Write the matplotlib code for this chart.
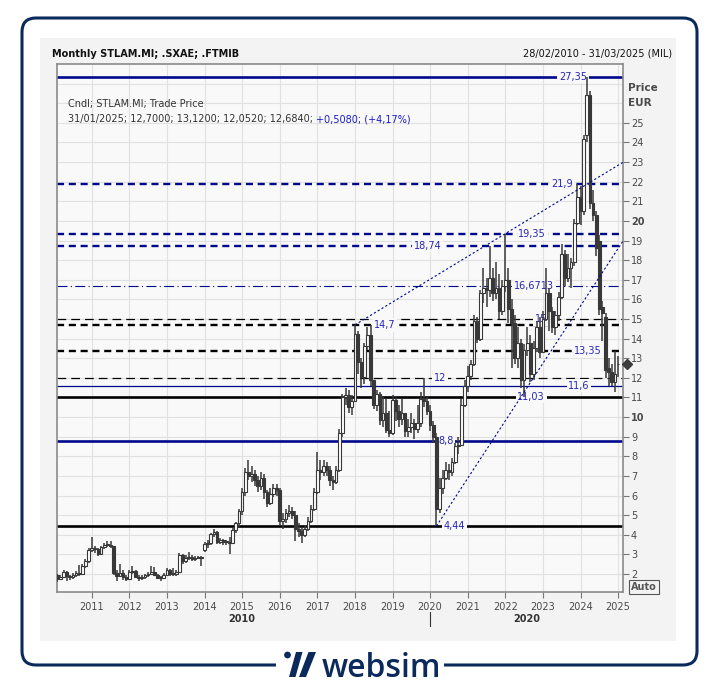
import matplotlib
matplotlib.use("Agg")
import matplotlib.pyplot as plt
import pandas as pd
from matplotlib.patches import Rectangle, FancyBboxPatch, Circle, Polygon
from matplotlib.transforms import IdentityTransform

# monthly candles, Feb 2010 .. Jan 2025 (EUR)
months = pd.date_range("2010-02-01", "2025-01-01", freq="MS")

opens = [
    1.95, 1.75, 1.85, 2.10, 1.90, 1.85, 1.95, 2.05, 2.00, 2.40, 2.65,
    3.20, 3.30, 3.25, 3.00, 3.35, 3.50, 3.50, 3.40, 2.05, 1.90, 2.05, 1.85,
    1.75, 2.10, 2.15, 1.85, 1.80, 1.85, 1.95, 2.00, 2.10, 1.95, 1.80, 1.80,
    1.95, 2.20, 2.00, 2.00, 2.10, 2.95, 2.65, 2.80, 2.85, 2.75, 2.80, 2.85,
    3.20, 3.55, 3.60, 4.05, 4.15, 3.65, 3.75, 3.65, 3.65, 3.60, 4.25, 4.60,
    5.20, 6.20, 7.20, 7.00, 7.10, 6.80, 6.50, 6.90, 6.20, 5.60, 6.10, 6.40,
    6.30, 4.70, 4.80, 5.10, 5.20, 5.00, 4.30, 4.20, 4.00, 4.30, 4.70, 5.30,
    6.20, 7.30, 7.20, 7.50, 7.30, 6.80, 6.70, 7.30, 9.20, 11.00, 11.10, 10.50,
    10.80, 14.25, 12.80, 12.05, 13.60, 14.20, 11.90, 10.60, 11.20, 9.85, 10.20, 9.35,
    9.20, 10.85, 10.30, 9.90, 10.20, 9.30, 9.50, 9.70, 9.40, 9.70, 10.90, 10.80,
    10.30, 9.60, 9.00, 5.30, 6.40, 6.90, 7.30, 7.20, 7.70, 8.50, 8.60, 10.60,
    11.60, 12.10, 12.70, 14.90, 14.00, 16.30, 16.60, 16.50, 17.10, 16.30, 16.60, 15.40,
    16.70, 17.00, 15.50, 14.80, 13.00, 13.80, 11.90, 13.40, 13.80, 12.20, 13.50, 14.60,
    13.30, 15.00, 16.30, 15.40, 14.60, 15.20, 16.10, 18.30, 17.10, 17.60, 17.90, 19.90,
    21.20, 20.50, 24.40, 26.40, 20.90, 20.30, 19.00, 15.60, 15.10, 12.50, 12.30, 11.80,
    12.70,
]
highs = [
    2.00, 1.95, 2.20, 2.15, 1.95, 2.05, 2.15, 2.45, 2.50, 2.75, 3.30,
    3.90, 3.40, 3.30, 3.45, 3.60, 3.70, 3.70, 3.45, 2.20, 2.50, 2.20, 1.95,
    2.20, 2.40, 2.20, 1.95, 1.95, 2.00, 2.10, 2.40, 2.35, 2.00, 1.90, 2.05,
    2.30, 2.25, 2.30, 2.20, 3.05, 3.00, 2.95, 3.10, 2.95, 2.90, 2.90, 2.90,
    3.65, 3.75, 4.10, 4.30, 4.20, 3.85, 3.80, 3.75, 3.90, 4.35, 4.65, 5.30,
    6.40, 7.40, 7.80, 7.50, 7.30, 7.00, 7.20, 7.10, 6.30, 6.40, 6.60, 6.60,
    6.40, 5.10, 5.30, 5.50, 5.40, 5.20, 4.60, 4.40, 4.50, 4.90, 5.50, 6.40,
    8.20, 7.80, 7.80, 7.70, 7.50, 7.00, 7.50, 9.40, 11.20, 11.50, 11.40, 11.10,
    14.70, 14.40, 13.00, 13.80, 14.60, 14.70, 11.90, 11.40, 11.30, 11.00, 10.90, 10.30,
    11.10, 11.00, 10.60, 10.90, 10.20, 9.90, 10.20, 9.90, 10.60, 11.30, 12.00, 11.00,
    10.60, 9.80, 9.20, 6.90, 7.30, 7.70, 7.60, 7.90, 8.70, 9.00, 10.90, 11.90,
    12.60, 12.90, 15.20, 15.10, 16.50, 17.60, 17.10, 18.74, 17.60, 17.90, 17.30, 17.00,
    19.35, 17.60, 16.00, 15.20, 14.60, 14.00, 13.70, 14.60, 14.20, 13.90, 14.90, 15.10,
    15.40, 17.60, 16.60, 15.60, 15.40, 16.40, 18.80, 18.50, 18.30, 18.10, 20.10, 21.90,
    21.80, 24.40, 27.35, 26.60, 21.60, 20.50, 19.30, 15.90, 15.30, 13.00, 12.70, 13.35,
    13.12,
]
lows = [
    1.60, 1.70, 1.80, 1.65, 1.70, 1.75, 1.85, 1.90, 1.95, 2.30, 2.55,
    3.10, 3.05, 2.90, 2.95, 3.25, 3.35, 3.30, 1.95, 1.65, 1.85, 1.70, 1.65,
    1.70, 2.00, 1.80, 1.65, 1.70, 1.75, 1.85, 1.95, 1.90, 1.75, 1.65, 1.75,
    1.95, 1.90, 1.90, 1.90, 2.05, 2.50, 2.55, 2.70, 2.65, 2.65, 2.75, 2.40,
    3.10, 3.30, 3.50, 3.90, 3.55, 3.55, 3.50, 3.50, 3.00, 3.55, 4.10, 4.40,
    5.00, 6.00, 6.80, 6.70, 6.50, 6.20, 6.30, 5.80, 5.40, 5.50, 5.90, 6.00,
    4.50, 4.30, 4.60, 4.90, 4.80, 3.70, 3.90, 3.60, 3.90, 4.20, 4.60, 5.20,
    6.10, 6.80, 7.00, 7.00, 6.50, 6.30, 6.60, 7.20, 9.00, 10.60, 10.20, 10.10,
    10.80, 12.20, 11.50, 11.70, 13.40, 11.60, 10.40, 10.30, 9.60, 9.50, 9.20, 9.00,
    9.10, 9.80, 9.50, 9.60, 9.00, 9.00, 9.20, 8.90, 9.20, 9.50, 10.50, 10.10,
    9.30, 8.70, 4.44, 5.10, 6.10, 6.80, 6.80, 7.00, 7.60, 8.10, 8.50, 10.50,
    11.30, 11.90, 12.60, 13.80, 13.90, 15.80, 15.60, 16.10, 15.90, 16.00, 15.00, 15.20,
    16.40, 14.80, 12.50, 12.70, 12.50, 11.50, 11.03, 13.10, 11.80, 11.90, 13.30, 13.00,
    13.30, 14.90, 14.40, 14.30, 14.20, 14.90, 16.00, 16.70, 16.90, 16.60, 17.70, 19.80,
    19.80, 20.30, 24.00, 20.60, 20.00, 18.20, 15.20, 13.90, 12.00, 11.60, 11.60, 11.30,
    12.052,
]
closes = [
    1.75, 1.85, 2.10, 1.90, 1.85, 1.95, 2.05, 2.00, 2.40, 2.65, 3.20,
    3.30, 3.25, 3.00, 3.35, 3.50, 3.50, 3.40, 2.05, 1.90, 2.05, 1.85, 1.75,
    2.10, 2.15, 1.85, 1.80, 1.85, 1.95, 2.00, 2.10, 1.95, 1.80, 1.80, 1.95,
    2.20, 2.00, 2.00, 2.10, 2.95, 2.65, 2.80, 2.85, 2.75, 2.80, 2.85, 2.80,
    3.55, 3.60, 4.05, 4.15, 3.65, 3.75, 3.65, 3.65, 3.60, 4.25, 4.60, 5.20,
    6.20, 7.20, 7.00, 7.10, 6.80, 6.50, 6.90, 6.20, 5.60, 6.10, 6.40, 6.30,
    4.70, 4.80, 5.10, 5.20, 5.00, 4.30, 4.20, 4.00, 4.30, 4.70, 5.30, 6.20,
    7.30, 7.20, 7.50, 7.30, 6.80, 6.70, 7.30, 9.20, 11.00, 11.10, 10.50, 10.80,
    14.25, 12.80, 12.05, 13.60, 14.20, 11.90, 10.60, 11.20, 9.85, 10.20, 9.35, 9.20,
    10.85, 10.30, 9.90, 10.20, 9.30, 9.50, 9.70, 9.40, 9.70, 10.90, 10.80, 10.30,
    9.60, 9.00, 5.30, 6.40, 6.90, 7.30, 7.20, 7.70, 8.50, 8.60, 10.60, 11.60,
    12.10, 12.70, 14.90, 14.00, 16.30, 16.60, 16.50, 17.10, 16.30, 16.60, 15.40, 16.70,
    17.00, 15.50, 14.80, 13.00, 13.80, 11.90, 13.40, 13.80, 12.20, 13.50, 14.60, 13.30,
    15.00, 16.30, 15.40, 14.60, 15.20, 16.10, 18.30, 17.10, 17.60, 17.90, 19.90, 21.20,
    20.50, 24.20, 26.40, 20.90, 20.30, 18.60, 15.50, 15.30, 12.40, 12.30, 11.80, 12.176,
    12.684,
]

# drawn price levels and their labels
level_values = [27.35, 21.9, 19.35, 18.74, 16.6713, 15.0, 14.7, 13.35, 12.0, 11.6, 11.03, 8.8, 4.44]
level_labels = ["27,35", "21,9", "19,35", "18,74", "16,6713", "15", "14,7", "13,35",
                "12", "11,6", "11,03", "8,8", "4,44"]

# trend lines: two anchor points each (year, price)
trend_upper = [(2018.0, 14.7), (2022.0, 19.35)]
trend_lower = [(2020.167, 4.44), (2022.417, 11.03)]

year_ticks = list(range(2011, 2026))
price_ticks = list(range(2, 26))

# ---------------------------------------------------------------------------
W, H = 720, 687
NAVY = "#0b2a5b"
LINE_NAVY = "#00098c"
LBL_BLUE = "#2626b8"
CANDLE = "#383838"

fig = plt.figure(figsize=(W / 100, H / 100), dpi=100)
fig.patch.set_facecolor("white")
ident = IdentityTransform()


def fx(x):
    return x / W


def fy(y):
    return 1 - y / H


# card, border and logo
fig.add_artist(Rectangle((40, H - 641), 636, 603, transform=ident, fc="#f3f3f3", ec="none", zorder=-5))
fig.add_artist(FancyBboxPatch((22, H - 665), 675, 647, boxstyle="round,pad=0,rounding_size=14",
                              transform=ident, fc="none", ec=NAVY, lw=2.2, zorder=1))
fig.add_artist(Rectangle((276, H - 671), 168, 12, transform=ident, fc="white", ec="none", zorder=2))
fig.add_artist(Circle((287.5, H - 655), 3.4, transform=ident, fc=NAVY, ec="none", zorder=3))
fig.add_artist(Polygon([(289, H - 677), (295.5, H - 677), (302.5, H - 652), (296, H - 652)],
                       transform=ident, fc=NAVY, ec="none", zorder=3))
fig.add_artist(Polygon([(299, H - 677), (306, H - 677), (316, H - 652), (308.5, H - 652)],
                       transform=ident, fc=NAVY, ec="none", zorder=3))
fig.text(fx(322), fy(677), "websim", ha="left", va="baseline", fontsize=23, color=NAVY,
         family="Open Sans", fontweight="semibold", zorder=3)

# chart axes
x0, x1 = 2010.069, 2025.122
ax = fig.add_axes([fx(56.7), 1 - 592 / H, (622.7 - 56.7) / W, (592 - 64) / H])
ax.set_xlim(x0, x1)
ax.set_ylim(1.08, 28.0)
ax.set_facecolor("#f9f9f9")
for sp in ax.spines.values():
    sp.set_color("#8a8a8a")
    sp.set_linewidth(1.2)

for v in range(2, 28):
    ax.axhline(v, color="#e1e1e1", lw=0.8, zorder=0.5)
for yr in year_ticks:
    ax.axvline(yr, color="#e1e1e1", lw=0.8, zorder=0.5)

# horizontal levels
styles = [
    (LINE_NAVY, "-", 1.9), (LINE_NAVY, (0, (3, 2)), 1.7), (LINE_NAVY, (0, (3, 2)), 1.7),
    (LINE_NAVY, (0, (3, 2)), 1.7), (LINE_NAVY, (0, (9, 3, 1, 3)), 0.8), ("black", (0, (7, 4)), 0.9),
    ("black", (0, (3, 2)), 1.7), ("black", (0, (3, 2)), 1.7), ("black", (0, (7, 4)), 0.9),
    (LINE_NAVY, "-", 0.9), ("black", "-", 1.9), (LINE_NAVY, "-", 1.9), ("black", "-", 1.9),
]
label_x = [2023.80, 2023.51, 2022.71, 2019.94, 2022.77, 2022.95, 2018.80, 2024.20,
           2020.26, 2023.96, 2022.69, 2020.42, 2020.64]
for v, lab, (c, ls, lw), lx in zip(level_values, level_labels, styles, label_x):
    ax.axhline(v, color=c, ls=ls, lw=lw, zorder=2)
    ax.text(lx, v, lab, ha="center", va="center", fontsize=7, color=LBL_BLUE, zorder=3,
            bbox=dict(fc="#f9f9f9", ec="none", pad=1.2))

# trend lines extended to the right edge
for (xa, ya), (xb, yb) in (trend_upper, trend_lower):
    slope = (yb - ya) / (xb - xa)
    ax.plot([xa, x1], [ya, ya + slope * (x1 - xa)], color=LINE_NAVY, lw=0.8,
            ls=(0, (2, 2)), zorder=5)

# candles
xs = months.year + (months.month - 1) / 12
ax.vlines(xs, lows, highs, color=CANDLE, lw=1.1, zorder=4)
bw = 0.072
for x, o, h, l, c in zip(xs, opens, highs, lows, closes):
    bottom = min(o, c)
    height = max(abs(c - o), 0.04)
    fill = "white" if c >= o else CANDLE
    ax.add_patch(Rectangle((x - bw / 2, bottom), bw, height, fc=fill, ec=CANDLE, lw=0.8, zorder=4.5))

# last price marker
ax.plot([x1 + 0.115], [closes[-1]], marker="D", ms=5, color="#3c3c3c", clip_on=False, zorder=6)

# axes ticks
ax.yaxis.tick_right()
ax.set_yticks(price_ticks)
ax.set_yticklabels([str(p) for p in price_ticks])
for t, p in zip(ax.get_yticklabels(), price_ticks):
    if p in (10, 20):
        t.set_fontweight("bold")
        t.set_color("#333333")
ax.set_xticks(year_ticks)
ax.set_xticklabels([str(y) for y in year_ticks])
ax.tick_params(axis="both", direction="out", length=4, width=0.8, color="#777777",
               labelcolor="#4a4a4a", labelsize=7)
ax.tick_params(axis="y", pad=2)
ax.tick_params(axis="x", pad=3)

# texts
fig.text(fx(52), fy(54), "Monthly STLAM.MI; .SXAE; .FTMIB", ha="left", va="center",
         fontsize=7, fontweight="bold", color="#111111")
fig.text(fx(672), fy(54), "28/02/2010 - 31/03/2025 (MIL)", ha="right", va="center",
         fontsize=7, color="#111111")
fig.text(fx(628), fy(88), "Price", ha="left", va="center", fontsize=7.5, fontweight="bold", color="#4a4a4a")
fig.text(fx(628), fy(103), "EUR", ha="left", va="center", fontsize=7.5, fontweight="bold", color="#4a4a4a")
fig.text(fx(68), fy(104), "Cndl; STLAM.MI; Trade Price", ha="left", va="center", fontsize=7, color="#333333")
t1 = fig.text(fx(68), fy(119), "31/01/2025; 12,7000; 13,1200; 12,0520; 12,6840; ", ha="left",
              va="center", fontsize=7, color="#333333")
fig.canvas.draw()
bb = t1.get_window_extent()
fig.text(bb.x1 / W, fy(119), "+0,5080; (+4,17%)", ha="left", va="center", fontsize=7, color="#1a1ad0")

fig.text(fx(242), fy(619), "2010", ha="center", va="center", fontsize=7, fontweight="bold", color="#333333")
fig.text(fx(527), fy(619), "2020", ha="center", va="center", fontsize=7, fontweight="bold", color="#333333")
fig.add_artist(plt.Line2D([fx(429.7), fx(429.7)], [fy(612), fy(626)], color="#333333", lw=0.8))
fig.text(fx(644), fy(587), "Auto", ha="center", va="center", fontsize=7, fontweight="bold", color="#555555",
         bbox=dict(fc="#f3f3f3", ec="#555555", pad=1.2, lw=0.8))

fig.savefig("out.png", dpi=100)
